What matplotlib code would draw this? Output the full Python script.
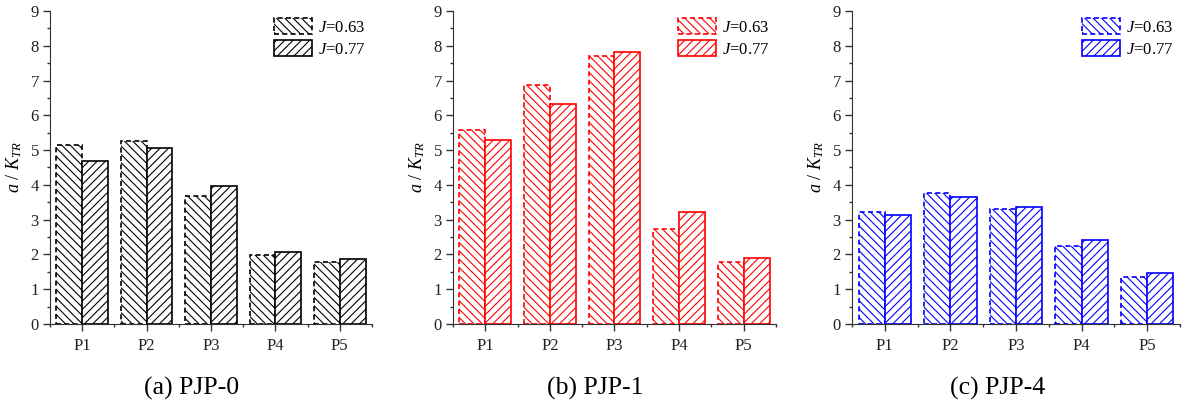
import numpy as np
import matplotlib
matplotlib.use('Agg')
import matplotlib.pyplot as plt
from matplotlib.ticker import MultipleLocator

plt.rcParams['font.family'] = ['Liberation Serif', 'DejaVu Serif']
plt.rcParams['mathtext.fontset'] = 'custom'
plt.rcParams['mathtext.rm'] = 'Liberation Serif'
plt.rcParams['mathtext.it'] = 'Liberation Serif:italic'
plt.rcParams['hatch.linewidth'] = 0.8

# data
categories = ['P1', 'P2', 'P3', 'P4', 'P5']
series_labels = [r'$J$=0.63', r'$J$=0.77']

pjp0_j063 = [5.14, 5.25, 3.67, 1.98, 1.77]
pjp0_j077 = [4.68, 5.06, 3.96, 2.08, 1.87]

pjp1_j063 = [5.59, 6.87, 7.70, 2.72, 1.77]
pjp1_j077 = [5.30, 6.32, 7.81, 3.21, 1.90]

pjp4_j063 = [3.21, 3.77, 3.31, 2.25, 1.35]
pjp4_j077 = [3.14, 3.65, 3.36, 2.41, 1.46]

panels = [
    ('(a) PJP-0', pjp0_j063, pjp0_j077, 'black'),
    ('(b) PJP-1', pjp1_j063, pjp1_j077, '#ff0000'),
    ('(c) PJP-4', pjp4_j063, pjp4_j077, '#0000ff'),
]

fig = plt.figure(figsize=(11.82, 4.08), dpi=100)
positions = [
    [0.0423, 0.206, 0.2724, 0.767],
    [0.3832, 0.206, 0.2733, 0.767],
    [0.7208, 0.206, 0.2775, 0.767],
]
caption_x = [192 / 1182, 595 / 1182, 998 / 1182]

x = np.arange(len(categories))
w = 0.4

for i, (title, s1, s2, col) in enumerate(panels):
    ax = fig.add_axes(positions[i])
    # dashed outline for J=0.63, solid for J=0.77
    ax.bar(x - w / 2, s1, w, facecolor='white', edgecolor=col, hatch='\\\\\\\\',
           linewidth=1.2, linestyle=(0, (3, 2)), label=series_labels[0])
    ax.bar(x + w / 2, s2, w, facecolor='white', edgecolor=col, hatch='////',
           linewidth=1.2, label=series_labels[1])

    ax.set_xlim(-0.5, 4.5)
    ax.set_ylim(0, 9)
    ax.set_xticks(x)
    ax.set_xticklabels(categories)
    ax.xaxis.set_minor_locator(MultipleLocator(1, offset=0.5))
    ax.yaxis.set_major_locator(MultipleLocator(1))
    ax.yaxis.set_minor_locator(MultipleLocator(0.5))
    ax.tick_params(axis='both', which='major', direction='out', length=5,
                   width=1, labelsize=12, colors='#333333', labelcolor='#222222')
    ax.tick_params(axis='both', which='minor', direction='out', length=2.5,
                   width=1, colors='#333333')
    ax.tick_params(axis='x', which='major', pad=5)
    ax.tick_params(axis='y', which='major', pad=3)
    ax.spines['top'].set_visible(False)
    ax.spines['right'].set_visible(False)
    ax.spines['left'].set_color('#333333')
    ax.spines['bottom'].set_color('#333333')
    ax.set_ylabel(r'$a$ / $K_{TR}$', fontsize=13, labelpad=5)

    ax.legend(loc='upper right', bbox_to_anchor=(1.0, 1.0), frameon=False,
              fontsize=12, handlelength=2.3, handleheight=1.15,
              labelspacing=0.25, handletextpad=0.35, borderaxespad=0.0)

    fig.text(caption_x[i], 1 - 388 / 408, title, ha='center', va='center', fontsize=18.5)

fig.savefig('out.png', dpi=100)
